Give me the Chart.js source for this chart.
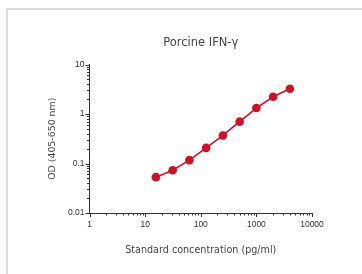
<!DOCTYPE html>
<html>
<head>
<meta charset="utf-8">
<script src="https://cdn.jsdelivr.net/npm/chart.js@4/dist/chart.umd.min.js"></script>
<style>
  html, body { margin: 0; padding: 0; background: #fff; }
  #wrap { position: relative; width: 362px; height: 274px; overflow: hidden; }
  #frame { position: absolute; left: 6px; top: 8px; width: 400px; height: 300px;
           border-top: 2px solid #dcdcdc; border-left: 2px solid #dcdcdc; }
  canvas { position: absolute; left: 0; top: 0; }
</style>
</head>
<body>
<div id="wrap">
  <div id="frame"></div>
  <canvas id="c" width="362" height="274"></canvas>
</div>
<script>
const chartTitle = 'Porcine IFN-\u03b3';
const xTitle = 'Standard concentration (pg/ml)';
const yTitle = 'OD (405-650 nm)';
const concentrations = [15.6, 31.25, 62.5, 125, 250, 500, 1000, 2000, 4000];
const odValues = [0.053, 0.073, 0.117, 0.207, 0.368, 0.70, 1.32, 2.23, 3.24];
const xMajorTicks = [1, 10, 100, 1000, 10000];
const yMajorTicks = [0.01, 0.1, 1, 10];

const RED = '#cf1027';
const TEXT = '#444';
const AXIS = '#333';

function withMinors(majors) {
  const out = [];
  for (let i = 0; i < majors.length; i++) {
    out.push({ value: majors[i], major: true });
    if (i < majors.length - 1) {
      for (let m = 2; m <= 9; m++) out.push({ value: majors[i] * m, major: false });
    }
  }
  return out;
}

const tickMarks = {
  id: 'tickMarks',
  afterDraw(chart) {
    const ctx = chart.ctx;
    const xs = chart.scales.x, ys = chart.scales.y;
    const area = chart.chartArea;
    ctx.save();
    ctx.strokeStyle = AXIS;
    ctx.lineWidth = 1;
    ctx.beginPath();
    xs.ticks.forEach(t => {
      const px = Math.round(xs.getPixelForValue(t.value)) + 0.5;
      const len = t.major ? 4 : 2.5;
      ctx.moveTo(px, area.bottom);
      ctx.lineTo(px, area.bottom + len);
    });
    ys.ticks.forEach(t => {
      const py = Math.round(ys.getPixelForValue(t.value)) + 0.5;
      const len = t.major ? 4 : 2.5;
      ctx.moveTo(area.left, py);
      ctx.lineTo(area.left - len, py);
    });
    ctx.stroke();
    ctx.restore();
  }
};

new Chart(document.getElementById('c'), {
  type: 'line',
  data: {
    datasets: [{
      xAxisID: 'x',
      yAxisID: 'y',
      data: concentrations.map((c, i) => ({ x: c, y: odValues[i] })),
      borderColor: RED,
      backgroundColor: RED,
      borderWidth: 1.6,
      pointRadius: 4.3,
      pointBackgroundColor: RED,
      pointBorderColor: RED,
      pointBorderWidth: 0,
      tension: 0
    }]
  },
  options: {
    responsive: false,
    animation: false,
    devicePixelRatio: 1,
    layout: { padding: { left: 0, right: 50, top: 0, bottom: 0 } },
    plugins: { legend: { display: false }, title: { display: false }, tooltip: { enabled: false } },
    scales: {
      x: {
        type: 'logarithmic',
        position: 'bottom',
        min: 1, max: 10000,
        grid: { display: false, drawTicks: false },
        border: { display: true, color: AXIS, width: 1 },
        afterBuildTicks(s) { s.ticks = withMinors(xMajorTicks); },
        ticks: {
          autoSkip: false, maxRotation: 0, padding: 7, color: '#333',
          font: { family: 'Liberation Sans', size: 8.5 },
          callback(v) { return xMajorTicks.includes(v) ? String(v) : ''; }
        },
        title: {
          display: true, text: xTitle, color: TEXT,
          font: { family: 'DejaVu Sans', size: 9.6 },
          padding: { top: 18, bottom: 18 }
        },
        afterFit(s) { s.height = 61; }
      },
      y: {
        type: 'logarithmic',
        position: 'left',
        min: 0.01, max: 10,
        grid: { display: false, drawTicks: false },
        border: { display: true, color: AXIS, width: 1 },
        afterBuildTicks(s) { s.ticks = withMinors(yMajorTicks); },
        ticks: {
          autoSkip: false, padding: 5, color: '#333',
          font: { family: 'Liberation Sans', size: 8.5 },
          callback(v) { return yMajorTicks.includes(v) ? String(v) : ''; }
        },
        title: {
          display: true, text: yTitle, color: TEXT,
          font: { family: 'DejaVu Sans', size: 9.4 },
          padding: { top: 47, bottom: 47 }
        },
        afterFit(s) { s.width = 89.5; }
      },
      top: {
        type: 'linear',
        axis: 'x',
        position: 'top',
        display: true,
        min: 0, max: 1,
        grid: { display: false, drawTicks: false },
        border: { display: false },
        ticks: { display: false },
        title: {
          display: true, text: chartTitle, color: TEXT,
          font: { family: 'DejaVu Sans', size: 11.5 },
          padding: { top: 36, bottom: 0 }
        },
        afterFit(s) { s.height = 64.5; }
      }
    }
  },
  plugins: [tickMarks]
});
</script>
</body>
</html>
